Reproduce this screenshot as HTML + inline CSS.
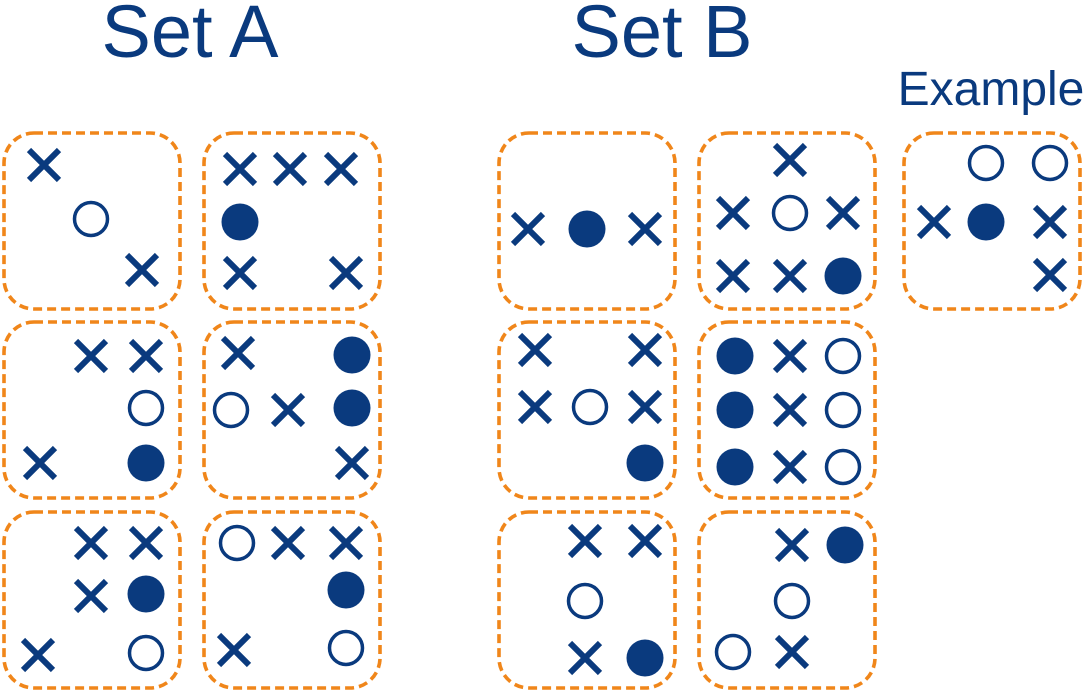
<!DOCTYPE html>
<html><head><meta charset="utf-8"><style>
html,body{margin:0;padding:0;background:#fff;}
svg{display:block;}
text{font-family:"Liberation Sans",Arial,sans-serif;fill:#0a3a7e;}
</style></head><body>
<svg id="s" width="1088" height="690" viewBox="0 0 1088 690" xmlns="http://www.w3.org/2000/svg">
<text x="190" y="57" font-size="74" text-anchor="middle">Set A</text>
<text x="662" y="57" font-size="74" text-anchor="middle">Set B</text>
<text x="991" y="105" font-size="48" text-anchor="middle">Example</text>
<g id="boxes" fill="none" stroke="#f0861a" stroke-width="3.6" stroke-dasharray="9 5">
<rect x="4" y="133" width="176" height="176" rx="30"/>
<rect x="204" y="133" width="176" height="176" rx="30"/>
<rect x="4" y="322" width="176" height="176" rx="30"/>
<rect x="204" y="322" width="176" height="176" rx="30"/>
<rect x="4" y="512" width="176" height="176" rx="30"/>
<rect x="204" y="512" width="176" height="176" rx="30"/>
<rect x="499" y="133" width="176" height="176" rx="30"/>
<rect x="699" y="133" width="176" height="176" rx="30"/>
<rect x="904" y="133" width="176" height="176" rx="30"/>
<rect x="499" y="322" width="176" height="176" rx="30"/>
<rect x="699" y="322" width="176" height="176" rx="30"/>
<rect x="499" y="512" width="176" height="176" rx="30"/>
<rect x="699" y="512" width="176" height="176" rx="30"/>
</g>
<g id="marks"></g>
</svg>
<script>
var items=[
"X44,165","O91,219","X142,270",
"X240,169","X290,169","X341,169","F240,222","X240,273","X346,273",
"X91,356","X146,356","O146,408","X40,463","F146,463",
"X238,353","F352,355","O231,410","X288,410","F352,408","X352,463",
"X91,543","X146,543","X91,596","F146,594","X38,655","O146,653",
"O237,543","X288,543","X346,543","F346,590","X234,650","O346,648",
"X528,229","F587,229","X645,229",
"X790,160","X733,213","O790,213","X843,213","X733,276","X790,276","F843,276",
"O986,163","O1050,163","X934,222","F986,222","X1050,222","X1050,275",
"X535,350","X645,350","X535,407","O590,407","X645,407","F645,463",
"F735,356","X790,356","O843,356","F735,410","X790,410","O843,410","F735,467","X790,467","O843,467",
"X585,541","X645,541","O585,601","X585,658","F645,658",
"X792,545","F845,545","O792,601","O733,652","X792,652"];
var g=document.getElementById('marks'),h='',c='#0a3a7e';
items.forEach(function(s){var t=s[0],p=s.slice(1).split(','),x=+p[0],y=+p[1];
if(t=='X'){var d=15;h+='<path d="M'+(x-d)+' '+(y-d)+'L'+(x+d)+' '+(y+d)+'M'+(x+d)+' '+(y-d)+'L'+(x-d)+' '+(y+d)+'" stroke="'+c+'" stroke-width="6" fill="none"/>';}
else if(t=='O'){h+='<circle cx="'+x+'" cy="'+y+'" r="16.5" fill="none" stroke="'+c+'" stroke-width="3.5"/>';}
else{h+='<circle cx="'+x+'" cy="'+y+'" r="18.5" fill="'+c+'"/>';}});
g.innerHTML=h;
</script>
</body></html>
